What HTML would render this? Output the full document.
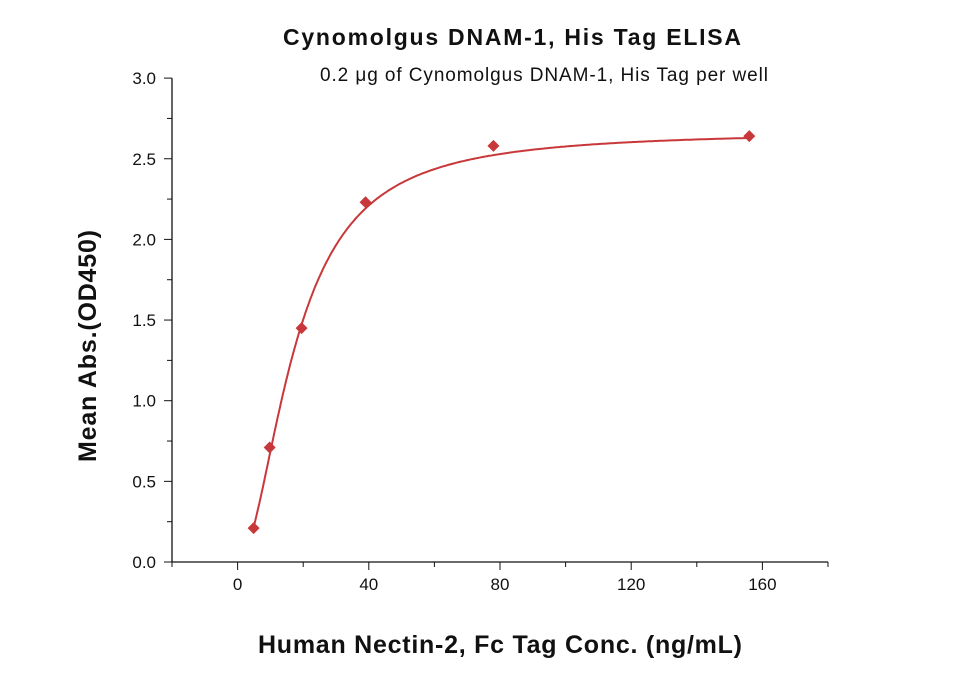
<!DOCTYPE html>
<html><head><meta charset="utf-8"><style>
body{margin:0;background:#fff;}
svg{display:block;font-family:"Liberation Sans",sans-serif;}
</style></head><body>
<svg id="chart" width="960" height="674">
<text x="512" y="45" text-anchor="middle" font-size="23" font-weight="bold" fill="#111" textLength="458">Cynomolgus DNAM-1, His Tag ELISA</text>
<text x="544" y="81" text-anchor="middle" font-size="19" fill="#111" textLength="448">0.2 μg of Cynomolgus DNAM-1, His Tag per well</text>
<text x="500" y="653" text-anchor="middle" font-size="25" font-weight="bold" fill="#111" textLength="484">Human Nectin-2, Fc Tag Conc. (ng/mL)</text>
<text transform="translate(96,346) rotate(-90)" text-anchor="middle" font-size="25" font-weight="bold" fill="#111" textLength="232">Mean Abs.(OD450)</text>
<g id="axes"></g><g id="marks"></g>
</svg>
<script>
const xs=[4.88,9.77,19.5,39,78,156];
const ys=[0.21,0.71,1.45,2.23,2.58,2.64];
const xTicks=[0,40,80,120,160];
const yTicks=[0,0.5,1.0,1.5,2.0,2.5,3.0];
const fitParams=[0,2.67,17.5,1.9]; // bottom, top, EC50, hill
const X=v=>172+(v+20)*(656/200);
const Y=v=>562-v*161.3;
const ns="http://www.w3.org/2000/svg";
function mk(t,a,p){const e=document.createElementNS(ns,t);for(const k in a)e.setAttribute(k,a[k]);p.appendChild(e);return e;}
const ax=document.getElementById('axes'),mg=document.getElementById('marks');
let e=mk('line',{x1:172,y1:562,x2:828,y2:562,stroke:'#111','stroke-width':1.3},ax);

e=mk('line',{x1:172,y1:Y(3),x2:172,y2:562,stroke:'#111','stroke-width':1.3},ax);

for(let v=-20;v<=180;v+=20){const big=v%40===0;mk('line',{x1:X(v),y1:562,x2:X(v),y2:562+(big?8:5),stroke:'#111'},ax);}
xTicks.forEach(v=>{const t=mk('text',{x:X(v),y:590,'text-anchor':'middle','font-size':17,fill:'#111'},ax);t.textContent=v;
});
for(let v=0;v<=3.001;v+=0.25){const big=Math.abs(v*2-Math.round(v*2))<1e-6;mk('line',{x1:172-(big?8:5),y1:Y(v),x2:172,y2:Y(v),stroke:'#111'},ax);}
yTicks.forEach(v=>{const t=mk('text',{x:156,y:Y(v)+6,'text-anchor':'end','font-size':17,fill:'#111'},ax);t.textContent=v.toFixed(1);
});
const [a,d,c,b]=fitParams;let pts=[];
for(let x=4.7;x<=156;x+=0.5){const y=d+(a-d)/(1+Math.pow(x/c,b));pts.push(X(x).toFixed(1)+','+Y(y).toFixed(1));}
e=mk('polyline',{points:pts.join(' '),fill:'none',stroke:'#c8383a','stroke-width':2},mg);

xs.forEach((x,i)=>{const cx=X(x),cy=Y(ys[i]),r=6;
const p=mk('polygon',{points:`${cx},${cy-r} ${cx+r},${cy} ${cx},${cy+r} ${cx-r},${cy}`,fill:'#c8383a'},mg);
});
</script>
</body></html>
